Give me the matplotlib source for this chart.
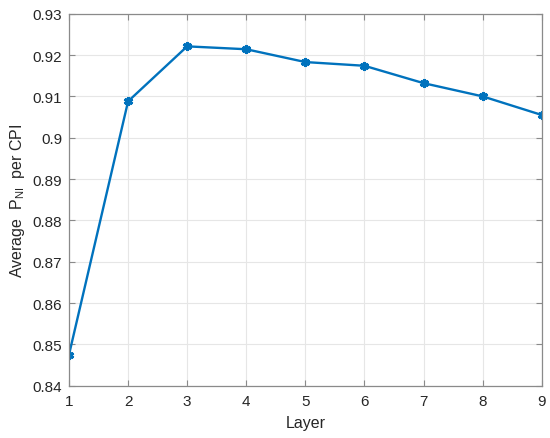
import matplotlib
import numpy as np

matplotlib.use("Agg")
import matplotlib.pyplot as plt
from matplotlib.ticker import FuncFormatter

layers = [1, 2, 3, 4, 5, 6, 7, 8, 9]
avg_pni = [0.8475, 0.9088, 0.9221, 0.9214, 0.9183, 0.9174, 0.9132, 0.9100, 0.9055]
y_ticks = [0.84, 0.85, 0.86, 0.87, 0.88, 0.89, 0.90, 0.91, 0.92, 0.93]

plt.rcParams["font.family"] = ["Liberation Sans", "DejaVu Sans"]
plt.rcParams["mathtext.fontset"] = "custom"
plt.rcParams["mathtext.rm"] = "Liberation Sans"
plt.rcParams["mathtext.it"] = "Liberation Sans"

fig = plt.figure(figsize=(5.5, 4.39), dpi=100)
ax = fig.add_axes([69 / 550, 1 - 386.7 / 439, (541.7 - 69) / 550, (386.7 - 14.7) / 439])

ax.plot(layers, avg_pni, color="#0072BD", linewidth=1.7, marker=(6, 2, 0),
        markersize=6.5, markeredgewidth=2.2, markeredgecolor="#0072BD")

ax.set_xlim(1, 9)
ax.set_ylim(0.84, 0.93)
ax.set_xticks(layers)
ax.set_yticks(y_ticks)
ax.yaxis.set_major_formatter(FuncFormatter(lambda v, _: f"{v:g}"))
ax.grid(True, color="#e6e6e6", linewidth=0.8)
ax.set_axisbelow(True)

for spine in ax.spines.values():
    spine.set_color("#8a8a8a")
    spine.set_linewidth(0.9)
ax.tick_params(direction="in", length=4, width=0.8, color="#8a8a8a",
               labelcolor="#262626", labelsize=11, top=True, right=True)
ax.tick_params(axis="x", pad=6)
ax.tick_params(axis="y", pad=5)

ax.set_xlabel("Layer", fontsize=11.5, color="#262626", labelpad=5)
ax.set_ylabel(r"Average  P$_{\mathrm{NI}}$  per CPI", fontsize=11.5, color="#262626", labelpad=4)

fig.savefig("out.png", dpi=100)
plt.close(fig)
